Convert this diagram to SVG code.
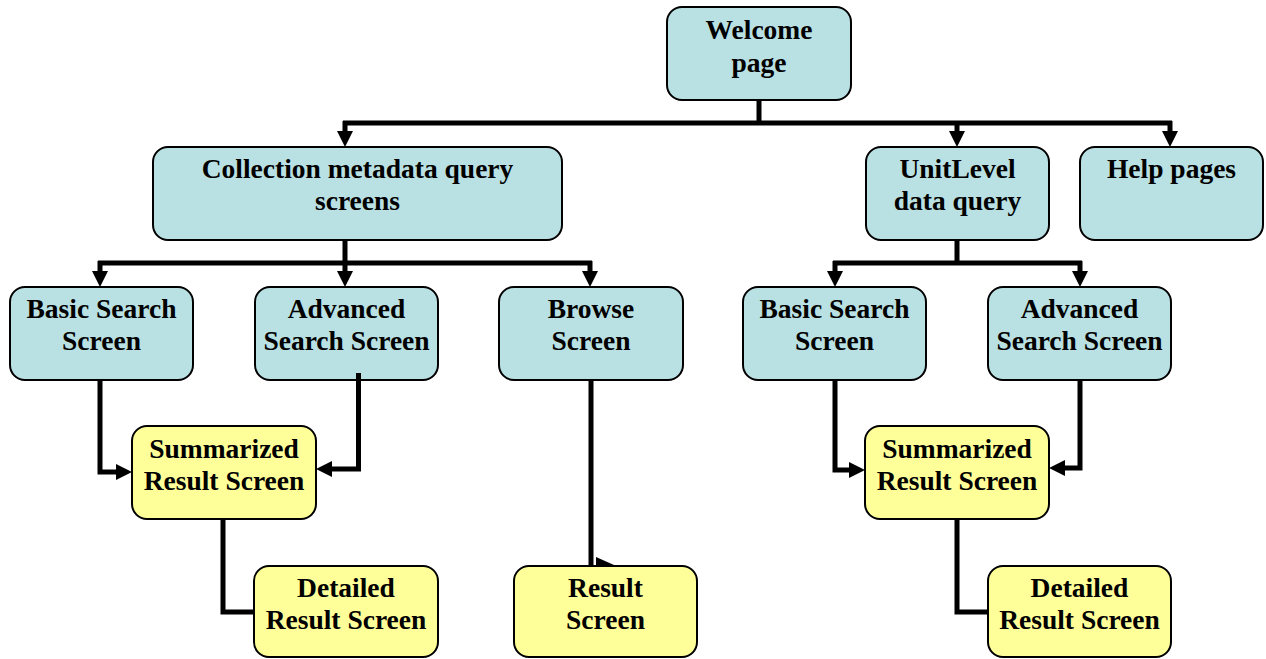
<svg xmlns="http://www.w3.org/2000/svg" width="1266" height="659" viewBox="0 0 1266 659">
<style>
.t{fill:#B9E0E3;stroke:#000;stroke-width:2}
.y{fill:#FFFF99;stroke:#000;stroke-width:2}
text{font-family:"Liberation Serif","Times New Roman",serif;font-weight:bold;font-size:27.5px;text-anchor:middle;fill:#000}
.c{fill:none;stroke:#000;stroke-width:5}
.a{marker-end:url(#ah)}
</style>
<defs>
<marker id="ah" markerUnits="userSpaceOnUse" viewBox="0 0 16 16" refX="0" refY="8" markerWidth="16" markerHeight="16" orient="auto">
<path d="M0,0 L16,8 L0,16 z" fill="#000"/>
</marker>
</defs>
<rect width="1266" height="659" fill="#fff"/>
<g id="nodes">
<g id="welcome"><rect class="t" x="667" y="7" width="184" height="93" rx="15"/><text x="759" y="39">Welcome</text><text x="759" y="72">page</text></g>
<g id="collection"><rect class="t" x="153" y="147" width="409" height="93" rx="15"/><text x="357.5" y="178">Collection metadata query</text><text x="357.5" y="210">screens</text></g>
<g id="unitlevel"><rect class="t" x="866" y="147" width="183" height="93" rx="15"/><text x="957.5" y="178">UnitLevel</text><text x="957.5" y="210">data query</text></g>
<g id="help"><rect class="t" x="1080" y="147" width="183" height="93" rx="15"/><text x="1171.5" y="178">Help pages</text></g>
<g id="basic1"><rect class="t" x="10" y="287" width="183" height="93" rx="15"/><text x="101.5" y="318">Basic Search</text><text x="101.5" y="350">Screen</text></g>
<g id="adv1"><rect class="t" x="255" y="287" width="183" height="93" rx="15"/><text x="346.5" y="318">Advanced</text><text x="346.5" y="350">Search Screen</text></g>
<g id="browse"><rect class="t" x="499" y="287" width="184" height="93" rx="15"/><text x="591" y="318">Browse</text><text x="591" y="350">Screen</text></g>
<g id="basic2"><rect class="t" x="743" y="287" width="183" height="93" rx="15"/><text x="834.5" y="318">Basic Search</text><text x="834.5" y="350">Screen</text></g>
<g id="adv2"><rect class="t" x="988" y="287" width="183" height="93" rx="15"/><text x="1079.5" y="318">Advanced</text><text x="1079.5" y="350">Search Screen</text></g>
<g id="summ1"><rect class="y" x="132" y="426" width="184" height="93" rx="15"/><text x="224" y="458">Summarized</text><text x="224" y="490">Result Screen</text></g>
<g id="summ2"><rect class="y" x="865" y="426" width="184" height="93" rx="15"/><text x="957" y="458">Summarized</text><text x="957" y="490">Result Screen</text></g>
<g id="detail1"><rect class="y" x="254" y="566" width="184" height="91" rx="15"/><text x="346" y="597">Detailed</text><text x="346" y="629">Result Screen</text></g>
<g id="result"><rect class="y" x="514" y="566" width="183" height="91" rx="15"/><text x="605.5" y="597">Result</text><text x="605.5" y="629">Screen</text></g>
<g id="detail2"><rect class="y" x="988" y="566" width="183" height="91" rx="15"/><text x="1079.5" y="597">Detailed</text><text x="1079.5" y="629">Result Screen</text></g>
</g>
<g id="connectors">
<path class="c" d="M759,100 V123 M343,123 H1172"/>
<path class="c a" d="M345,121 V131"/>
<path class="c a" d="M957,121 V131"/>
<path class="c a" d="M1170,121 V131"/>
<path class="c" d="M345,240 V263 M98,263 H592"/>
<path class="c a" d="M100,261 V271"/>
<path class="c a" d="M345,261 V271"/>
<path class="c a" d="M590,261 V271"/>
<path class="c" d="M957,240 V263 M833,263 H1082"/>
<path class="c a" d="M835,261 V271"/>
<path class="c a" d="M1080,261 V271"/>
<path class="c a" d="M100,380 V472 H116"/>
<path class="c a" d="M358.5,373 V469 H332"/>
<path class="c a" d="M835,380 V470 H849"/>
<path class="c a" d="M1080,380 V468 H1065"/>
<path class="c" d="M223,519 V612 H254"/>
<path class="c" d="M957,519 V612 H988"/>
<path class="c" d="M591,380 V566"/>
<polygon points="596,557 614,565 596,565" fill="#000"/>
</g>
</svg>
